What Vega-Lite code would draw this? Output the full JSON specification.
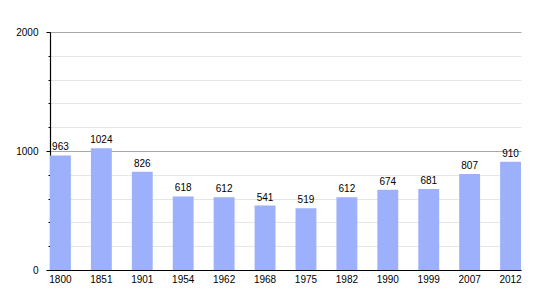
{
  "$schema": "https://vega.github.io/schema/vega-lite/v6.json",
  "width": 471,
  "height": 238,
  "autosize": {"type": "none"},
  "padding": {"left": 50, "top": 32, "right": 29, "bottom": 30},
  "background": "white",
  "config": {
    "view": {"stroke": null},
    "font": "Liberation Sans",
    "axis": {"labelFont": "Liberation Sans", "labelFontSize": 10, "labelColor": "#000"}
  },
  "data": {
    "values": [
      {"year": "1800", "pop": 963},
      {"year": "1851", "pop": 1024},
      {"year": "1901", "pop": 826},
      {"year": "1954", "pop": 618},
      {"year": "1962", "pop": 612},
      {"year": "1968", "pop": 541},
      {"year": "1975", "pop": 519},
      {"year": "1982", "pop": 612},
      {"year": "1990", "pop": 674},
      {"year": "1999", "pop": 681},
      {"year": "2007", "pop": 807},
      {"year": "2012", "pop": 910}
    ]
  },
  "encoding": {
    "x": {
      "field": "year",
      "type": "ordinal",
      "sort": null,
      "scale": {"paddingInner": 0.49, "paddingOuter": 0},
      "axis": {
        "title": null,
        "labelAngle": 0,
        "ticks": false,
        "labelPadding": 4,
        "domainColor": "#000",
        "domainWidth": 1.2
      }
    },
    "y": {
      "field": "pop",
      "type": "quantitative",
      "scale": {"domain": [0, 2000], "nice": false},
      "axis": {
        "title": null,
        "values": [0, 200, 400, 600, 800, 1000, 1200, 1400, 1600, 1800, 2000],
        "labelExpr": "datum.value % 1000 === 0 ? datum.label : ''",
        "format": "d",
        "gridColor": {"condition": {"test": "datum.value % 1000 === 0", "value": "#a8a8a8"}, "value": "#e6e6e6"},
        "tickSize": {"condition": {"test": "datum.value % 1000 === 0", "value": 4}, "value": 2},
        "tickColor": "#000",
        "labelPadding": 8,
        "domainColor": "#000",
        "domainWidth": 1.2
      }
    }
  },
  "layer": [
    {"mark": {"type": "bar", "color": "#9cb0fb"}},
    {
      "mark": {"type": "text", "baseline": "alphabetic", "dy": -5, "fontSize": 10, "font": "Liberation Sans", "color": "#000"},
      "encoding": {"text": {"field": "pop", "type": "quantitative"}}
    }
  ]
}
